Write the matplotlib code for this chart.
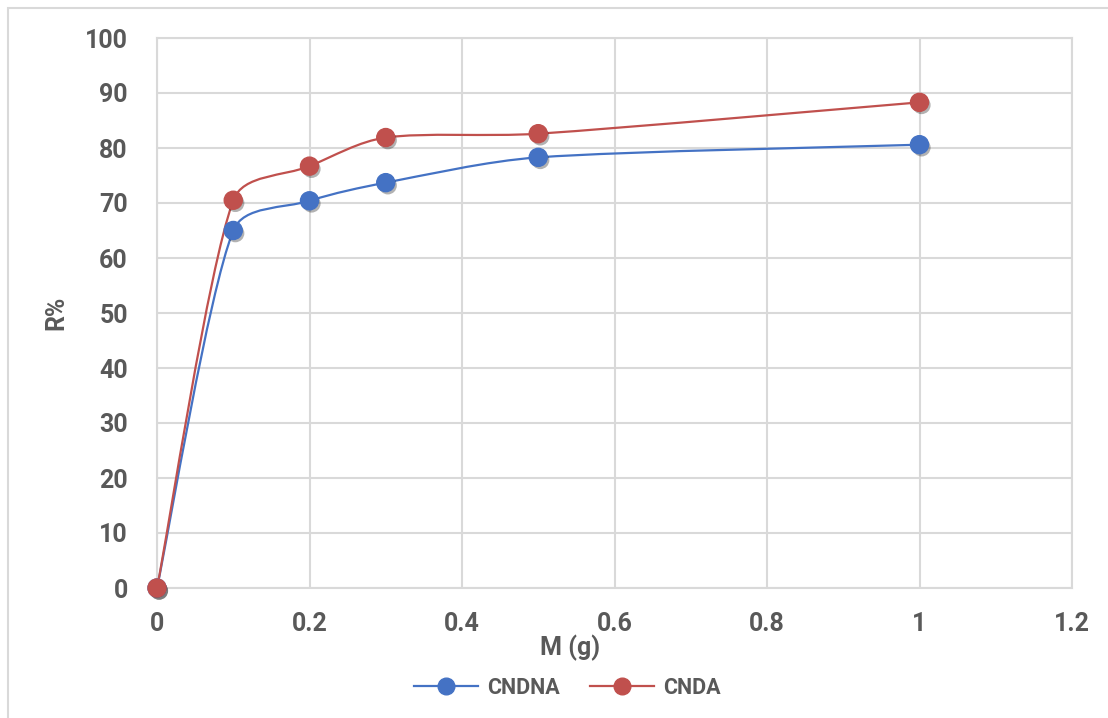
import matplotlib
matplotlib.use("Agg")
import matplotlib.pyplot as plt
import matplotlib.patheffects as pe
from matplotlib.path import Path
from matplotlib.patches import PathPatch, Rectangle
from matplotlib.lines import Line2D
import numpy as np

# dosis adsorbent (g) en rendement R%
massa = [0, 0.1, 0.2, 0.3, 0.5, 1.0]
r_cndna = [0, 65.0, 70.4, 73.7, 78.3, 80.6]
r_cnda = [0, 70.5, 76.7, 81.9, 82.6, 88.3]

xticks = [0, 0.2, 0.4, 0.6, 0.8, 1, 1.2]
xticklabels = ["0", "0.2", "0.4", "0.6", "0.8", "1", "1.2"]
yticks = list(range(0, 101, 10))

blauw = "#4472C4"
rood = "#C0504D"
grijs = "#595959"
raster = "#D9D9D9"

plt.rcParams["font.family"] = ["Roboto", "DejaVu Sans"]
plt.rcParams["font.weight"] = "bold"

fig = plt.figure(figsize=(11.08, 7.18), dpi=100)
ax = fig.add_axes([157 / 1108, 130 / 718, 915 / 1108, 550 / 718])
ax.set_xlim(0, 1.2)
ax.set_ylim(0, 100)

# kader rond de grafiek
fig.patches.append(Rectangle((8 / 1108, -0.05), 1.2, 710 / 718 + 0.05,
                             transform=fig.transFigure, fill=False,
                             edgecolor=raster, lw=1.5, zorder=0))


def gladde_lijn(x, y):
    # Bezier-curve door de punten (Catmull-Rom), armen begrensd op 1/3 van het segment
    sx = ax.bbox.width / 1.2
    sy = ax.bbox.height / 100
    p = np.column_stack([np.array(x) * sx, np.array(y) * sy])
    n = len(p)
    d = np.linalg.norm(np.diff(p, axis=0), axis=1)
    raak = [(p[min(i + 1, n - 1)] - p[max(i - 1, 0)]) / 6 for i in range(n)]

    def arm(t, lengte):
        L = np.linalg.norm(t)
        return t * min(1.0, lengte / 3 / L) if L > 0 else t

    verts = [p[0]]
    codes = [Path.MOVETO]
    for i in range(n - 1):
        c1 = p[i] + arm(raak[i], d[i])
        c2 = p[i + 1] - arm(raak[i + 1], d[i])
        verts += [c1, c2, p[i + 1]]
        codes += [Path.CURVE4] * 3
    verts = np.array(verts) / [sx, sy]
    return Path(verts, codes)


schaduw = [pe.SimplePatchShadow(offset=(1.5, -2), shadow_rgbFace="black", alpha=0.3), pe.Normal()]

for y, kleur, z in [(r_cndna, blauw, 3), (r_cnda, rood, 4)]:
    ax.add_patch(PathPatch(gladde_lijn(massa, y), fill=False, edgecolor=kleur, lw=1.6, zorder=z))
    ax.plot(massa, y, linestyle="none", marker="o", markersize=13,
            markerfacecolor=kleur, markeredgecolor=kleur, zorder=z + 2,
            path_effects=schaduw, clip_on=False)

ax.set_xticks(xticks)
ax.set_xticklabels(xticklabels)
ax.set_yticks(yticks)
ax.tick_params(axis="both", length=0, labelsize=18, labelcolor=grijs)
ax.tick_params(axis="x", pad=17)
ax.tick_params(axis="y", pad=21)
for lab in ax.get_xticklabels() + ax.get_yticklabels():
    lab.set_fontweight("bold")
ax.grid(True, color=raster, lw=1.5)
ax.set_axisbelow(True)
for kant in ["top", "right", "left", "bottom"]:
    ax.spines[kant].set_color(raster)
    ax.spines[kant].set_linewidth(1.5)

ax.set_xlabel("M (g)", fontsize=18, color=grijs, fontweight="bold", labelpad=2)
ax.xaxis.set_label_coords((570 - 157) / 915, -0.085)
ax.set_ylabel("R%", fontsize=18, color=grijs, fontweight="bold", labelpad=12)

handles = [Line2D([], [], color=blauw, lw=1.6, marker="o", markersize=12, markerfacecolor=blauw),
           Line2D([], [], color=rood, lw=1.6, marker="o", markersize=12, markerfacecolor=rood)]
fig.legend(handles, ["CNDNA", "CNDA"], loc="center", bbox_to_anchor=(567 / 1108, 30 / 718),
           ncol=2, frameon=False, labelcolor=grijs, handlelength=3.0,
           prop={"size": 15.5, "weight": "bold"}, columnspacing=1.4, handletextpad=0.4)

fig.savefig("out.png", dpi=100)
